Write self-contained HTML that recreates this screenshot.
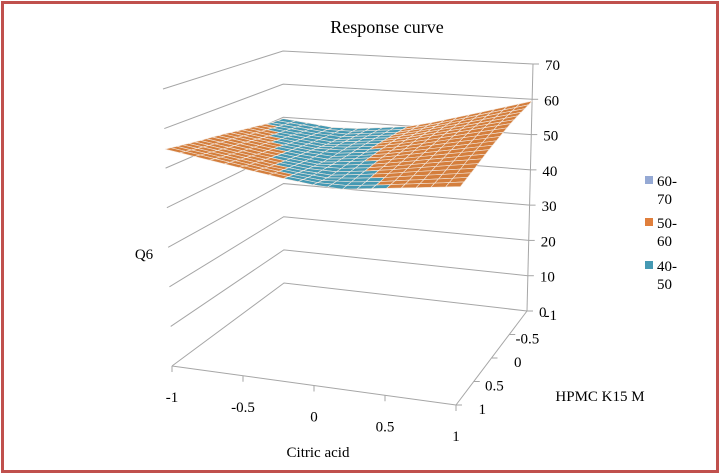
<!DOCTYPE html>
<html><head><meta charset="utf-8"><style>
html,body{margin:0;padding:0;background:#fff}
#wrap{position:relative;width:720px;height:474px;overflow:hidden}
#frame{position:absolute;left:1px;top:1px;width:712px;height:466px;border:3px solid #C0504D}
svg{position:absolute;left:0;top:0}
text{font-family:"Liberation Serif",serif;fill:#000}
</style></head><body>
<div id="wrap">
<div id="frame"></div>
<svg id="chart" width="720" height="474">
<text x="387" y="33" font-size="18" text-anchor="middle">Response curve</text>
<text x="144" y="259" font-size="15" text-anchor="middle">Q6</text>
<text x="318" y="457" font-size="15" text-anchor="middle">Citric acid</text>
<text x="600" y="401" font-size="15" text-anchor="middle">HPMC K15 M</text>
<g id="walls"></g><g id="surf"></g><g id="axes"></g>
<g>
<rect x="645" y="176" width="8" height="8" fill="#95A9D4"/>
<text x="657" y="186" font-size="15"><tspan x="657">60-</tspan><tspan x="657" dy="18">70</tspan></text>
<rect x="645" y="218" width="8" height="8" fill="#E07F3C"/>
<text x="657" y="228" font-size="15"><tspan x="657">50-</tspan><tspan x="657" dy="18">60</tspan></text>
<rect x="645" y="261" width="8" height="8" fill="#4599B3"/>
<text x="657" y="271" font-size="15"><tspan x="657">40-</tspan><tspan x="657" dy="18">50</tspan></text>
</g>
</svg></div>
<script>
const citric = [-1,-0.8,-0.6,-0.4,-0.2,0,0.2,0.4,0.6,0.8,1];
const hpmc = [-1,-0.8,-0.6,-0.4,-0.2,0,0.2,0.4,0.6,0.8,1];
const q6 = [
[49.6,48.8,48.0,48.2,49.0,49.8,51.5,53.5,55.5,57.5,59.5],
[49.9,49.2,48.4,48.2,49.0,49.8,51.4,53.3,55.2,57.1,58.9],
[50.6,49.6,48.8,48.2,49.0,49.8,51.3,53.1,54.8,56.6,58.4],
[51.2,50.1,49.2,48.4,49.0,49.8,51.2,52.9,54.5,56.2,57.8],
[51.8,50.6,49.6,48.8,48.9,49.7,50.9,52.4,54.0,55.5,57.0],
[52.4,51.2,50.1,49.2,48.7,49.5,50.6,52.0,53.4,54.8,56.2],
[52.9,51.7,50.5,49.5,48.7,49.4,50.3,51.5,52.8,54.1,55.4],
[53.3,52.1,50.9,49.8,49.0,49.1,49.9,51.0,52.2,53.4,54.5],
[53.8,52.6,51.4,50.2,49.3,48.8,49.6,50.5,51.6,52.6,53.6],
[54.3,53.1,51.9,50.7,49.7,48.9,49.2,49.9,50.9,51.8,52.8],
[54.8,53.6,52.4,51.2,50.1,49.2,48.8,49.6,50.4,51.2,52.0]];
const zTicks = [0,10,20,30,40,50,60,70];
const caTicks = [-1,-0.5,0,0.5,1];
const hpTicks = [-1,-0.5,0,0.5,1];

const NS="http://www.w3.org/2000/svg";
const B0=[[284,283],[527,311],[172,366],[456,405]];
const B1=[[283,51],[533,64],[163,89],[462,111]];
function lerp(a,b,t){return a+(b-a)*t;}
function proj(ca,hp,z){
  const u=(ca+1)/2,v=(hp+1)/2,w=z/70;
  return [0,1].map(i=>{
    const bl=lerp(B0[0][i],B1[0][i],w),br=lerp(B0[1][i],B1[1][i],w),
          fl=lerp(B0[2][i],B1[2][i],w),fr=lerp(B0[3][i],B1[3][i],w);
    return lerp(lerp(bl,br,u),lerp(fl,fr,u),v);
  });
}
function mk(tag,attrs,parent){const e=document.createElementNS(NS,tag);for(const k in attrs)e.setAttribute(k,attrs[k]);parent.appendChild(e);return e;}
const walls=document.getElementById('walls'),surf=document.getElementById('surf'),axes=document.getElementById('axes');
zTicks.forEach(z=>{
  const fl=proj(-1,1,z),bl=proj(-1,-1,z),br=proj(1,-1,z);
  const p=mk('polyline',{points:`${fl} ${bl} ${br}`,fill:'none',stroke:'#A6A6A6','stroke-width':1},walls);
  
  
  const t=mk('text',{x:br[0]+12,y:br[1]+6,'font-size':15},axes);
  t.textContent=z;
  
  
  const tk=mk('line',{x1:br[0],y1:br[1],x2:br[0]+6,y2:br[1],stroke:'#A6A6A6'},axes);
  
  
});
{
  const a=proj(1,-1,0),b=proj(1,-1,70);
  const l=mk('line',{x1:a[0],y1:a[1],x2:b[0],y2:b[1],stroke:'#A6A6A6'},walls);
  
  
  const f=proj(-1,1,0),g=proj(1,1,0);
  const l2=mk('line',{x1:f[0],y1:f[1],x2:g[0],y2:g[1],stroke:'#A6A6A6'},axes);
  
  
  const l3=mk('line',{x1:a[0],y1:a[1],x2:g[0],y2:g[1],stroke:'#A6A6A6'},axes);
  
  
}
caTicks.forEach(c=>{
  const p=proj(c,1,0);
  const tk=mk('line',{x1:p[0],y1:p[1],x2:p[0],y2:p[1]+6,stroke:'#A6A6A6'},axes);
  
  
  const t=mk('text',{x:p[0],y:p[1]+36,'font-size':15,'text-anchor':'middle'},axes);
  t.textContent=c;
  
  
});
hpTicks.forEach(h=>{
  const p=proj(1,h,0);
  const tk=mk('line',{x1:p[0],y1:p[1],x2:p[0]+6,y2:p[1],stroke:'#A6A6A6'},axes);
  
  
  const t=mk('text',{x:p[0]+30,y:p[1]+9,'font-size':15,'text-anchor':'end'},axes);
  t.textContent=h;
  
  
});
function col(z){return z>=60?'#95A9D4':z>=50?'#D47E3C':z>=40?'#4599B3':'#9BBB59';}
const SUB=2;
for(let j=0;j<hpmc.length-1;j++){
  for(let i=0;i<citric.length-1;i++){
    const z00=q6[j][i],z10=q6[j][i+1],z01=q6[j+1][i],z11=q6[j+1][i+1];
    for(let sj=0;sj<SUB;sj++)for(let si=0;si<SUB;si++){
      const corners=[[si,sj],[si+1,sj],[si+1,sj+1],[si,sj+1]].map(([a,b])=>{
        const s=a/SUB,t=b/SUB;
        const z=lerp(lerp(z00,z10,s),lerp(z01,z11,s),t);
        const ca=lerp(citric[i],citric[i+1],s),hp=lerp(hpmc[j],hpmc[j+1],t);
        return {p:proj(ca,hp,z),z:z};
      });
      const avg=corners.reduce((a,c)=>a+c.z,0)/4;
      const p=mk('polygon',{points:corners.map(c=>c.p.join(',')).join(' '),fill:col(avg),stroke:'#F4E9E0','stroke-width':0.6},surf);
      
      
    }
  }
}
</script>
</body></html>
